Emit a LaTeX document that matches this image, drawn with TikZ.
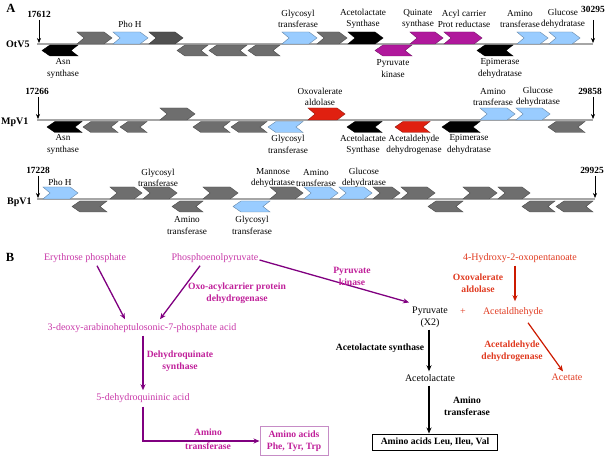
\documentclass[tikz,border=0pt]{standalone}
\usepackage{fontspec}
\setmainfont{Liberation Serif}
\usetikzlibrary{arrows.meta}
\definecolor{ggray}{HTML}{6E6E6E}
\definecolor{dgray}{HTML}{505050}
\definecolor{gblue}{HTML}{99CCFF}
\definecolor{gmag}{HTML}{B0189C}
\definecolor{gred}{HTML}{E02010}
\definecolor{pinktxt}{HTML}{C838A8}
\definecolor{magbold}{HTML}{C0209A}
\definecolor{purarr}{HTML}{800080}
\definecolor{redtxt}{HTML}{E03A20}
\definecolor{redarr}{HTML}{CC1A00}
\newcommand{\fgene}[4]{\filldraw[genest=#4] (#1,#3) -- ({#2-8},#3) -- (#2,{#3+6}) -- ({#2-8},{#3+12}) -- (#1,{#3+12}) -- ({#1+7},{#3+6}) -- cycle;}
\newcommand{\rgene}[4]{\filldraw[genest=#4] (#2,#3) -- ({#1+8},#3) -- (#1,{#3+5.5}) -- ({#1+8},{#3+11}) -- (#2,{#3+11}) -- ({#2-7},{#3+5.5}) -- cycle;}
\tikzset{
  genest/.style={fill=#1, draw=#1!65!black, line width=0.4pt},
  glab/.style={font=\fontsize{9.2}{11.3}\selectfont, align=center, inner sep=0pt},
  numlab/.style={font=\fontsize{9.4}{11}\selectfont\bfseries, inner sep=0pt},
  rowlab/.style={font=\fontsize{10}{12}\selectfont\bfseries, inner sep=0pt},
  panlab/.style={font=\fontsize{12.5}{14}\selectfont\bfseries, inner sep=0pt},
  baseln/.style={draw=gray!70, line width=1.5pt},
  numarr/.style={-{Stealth[length=5pt,width=4pt]}, line width=0.6pt},
  ptxt/.style={font=\fontsize{10}{12}\selectfont, align=center, inner sep=1pt},
  blab/.style={font=\fontsize{9.6}{12}\selectfont\bfseries, align=center, inner sep=0pt},
  parr/.style={-{Stealth[length=6pt,width=5pt]}, line width=1.3pt, draw=purarr},
  rarr/.style={-{Stealth[length=6pt,width=5pt]}, line width=1.2pt, draw=redarr},
  karr/.style={-{Stealth[length=6pt,width=5pt]}, line width=1.3pt, draw=black},
}
\begin{document}
\begin{tikzpicture}[x=1pt,y=-1pt]
\useasboundingbox (0,0) rectangle (608,457);
% ---------------- Panel A ----------------
\node[panlab] (A) at (11,8) {A};
% OtV5
\node[rowlab, anchor=west] (r1) at (6,44) {OtV5};
\node[numlab] (n1a) at (39,14) {17612};
\node[numlab, anchor=west] (n1b) at (581,9) {30295};
\coordinate (b1s) at (37,44);
\coordinate (b1e) at (593,44);
\draw[baseln] (b1s) -- (b1e);
\draw[numarr] (39,20) -- (39,43);
\draw[numarr] (593,20) -- (593,43);
\fgene{77}{112}{32}{ggray}
\fgene{113}{148}{32}{gblue}
\fgene{149}{183}{32}{dgray}
\fgene{282}{317}{32}{gblue}
\fgene{317}{347}{32}{ggray}
\fgene{348}{383}{32}{black}
\fgene{410}{443}{32}{gmag}
\fgene{444}{482}{32}{gmag}
\fgene{517}{548}{32}{gblue}
\fgene{549}{580}{32}{gblue}
\rgene{42}{78}{45}{black}
\rgene{177}{208}{45}{ggray}
\rgene{209}{247}{45}{ggray}
\rgene{248}{280}{45}{ggray}
\rgene{375}{412}{45}{gmag}
\rgene{477}{513}{45}{black}
\node[glab] (l11) at (130,24) {Pho H};
\node[glab] (l12) at (298,19) {Glycosyl\\transferase};
\node[glab] (l13) at (363,19) {Acetolactate\\Synthase};
\node[glab] (l14) at (418,19) {Quinate\\synthase};
\node[glab] (l15) at (464,19) {Acyl carrier\\Prot reductase};
\node[glab] (l16) at (520,19) {Amino\\transferase};
\node[glab] (l17) at (563,19) {Glucose\\dehydratase};
\node[glab] (l18) at (63,68.5) {Asn\\synthase};
\node[glab] (l19) at (393,68.5) {Pyruvate\\kinase};
\node[glab] (l1a) at (500,68.5) {Epimerase\\dehydratase};
% MpV1
\node[rowlab, anchor=west] (r2) at (1,122) {MpV1};
\node[numlab] (n2a) at (37,91) {17266};
\node[numlab] (n2b) at (590,91) {29858};
\coordinate (b2s) at (37,120);
\coordinate (b2e) at (593,120);
\draw[baseln] (b2s) -- (b2e);
\draw[numarr] (38,97) -- (38,119);
\draw[numarr] (593,97) -- (593,119);
\fgene{160}{195}{108}{ggray}
\fgene{308}{345}{108}{gred}
\fgene{480}{515}{108}{gblue}
\fgene{516}{550}{108}{gblue}
\rgene{47}{82}{121.5}{black}
\rgene{83}{118}{121.5}{ggray}
\rgene{120}{147}{121.5}{ggray}
\rgene{193}{230}{121.5}{ggray}
\rgene{231}{267}{121.5}{ggray}
\rgene{268}{303}{121.5}{gblue}
\rgene{347}{382}{121.5}{black}
\rgene{395}{430}{121.5}{gred}
\rgene{442}{480}{121.5}{black}
\rgene{548}{585}{121.5}{ggray}
\node[glab] (l21) at (320,97) {Oxovalerate\\aldolase};
\node[glab] (l22) at (493,97) {Amino\\transferase};
\node[glab] (l23) at (538,97) {Glucose\\dehydratase};
\node[glab] (l24) at (63,144.5) {Asn\\synthase};
\node[glab] (l25) at (288,144.5) {Glycosyl\\transferase};
\node[glab] (l26) at (363,144.5) {Acetolactate\\Synthase};
\node[glab] (l27) at (414,144.5) {Acetaldehyde\\dehydrogenase};
\node[glab] (l28) at (469,144.5) {Epimerase\\dehydratase};
% BpV1
\node[rowlab, anchor=west] (r3) at (7,202) {BpV1};
\node[numlab] (n3a) at (38,170) {17228};
\node[numlab] (n3b) at (592,170) {29925};
\coordinate (b3s) at (37,199);
\coordinate (b3e) at (595,199);
\draw[baseln] (b3s) -- (b3e);
\draw[numarr] (38,176) -- (38,198);
\draw[numarr] (595,176) -- (595,198);
\fgene{43}{78}{187}{gblue}
\fgene{110}{142}{187}{ggray}
\fgene{143}{177}{187}{ggray}
\fgene{203}{238}{187}{ggray}
\fgene{270}{303}{187}{ggray}
\fgene{304}{338}{187}{gblue}
\fgene{339}{372}{187}{gblue}
\fgene{373}{400}{187}{ggray}
\fgene{401}{435}{187}{ggray}
\fgene{463}{497}{187}{ggray}
\fgene{498}{530}{187}{ggray}
\rgene{72}{107}{201}{ggray}
\rgene{172}{203}{201}{ggray}
\rgene{233}{270}{201}{gblue}
\rgene{428}{463}{201}{ggray}
\rgene{522}{555}{201}{ggray}
\rgene{556}{593}{201}{ggray}
\node[glab] (l31) at (60,182) {Pho H};
\node[glab] (l32) at (158,178) {Glycosyl\\transferase};
\node[glab] (l33) at (273,178) {Mannose\\dehydratase};
\node[glab] (l34) at (316,178) {Amino\\transferase};
\node[glab] (l35) at (364,178) {Glucose\\dehydratase};
\node[glab] (l36) at (187,225.5) {Amino\\transferase};
\node[glab] (l37) at (252,225.5) {Glycosyl\\transferase};
% ---------------- Panel B ----------------
\node[panlab] (B) at (10,257) {B};
\node[ptxt, text=pinktxt] (ery) at (85,258) {Erythrose phosphate};
\node[ptxt, text=pinktxt] (pep) at (215,258) {Phosphoenolpyruvate};
\node[ptxt, text=pinktxt] (dahp) at (142,328) {3-deoxy-arabinoheptulosonic-7-phosphate acid};
\node[ptxt, text=pinktxt] (dhq) at (143,398) {5-dehydroquininic acid};
\node[blab, text=magbold, draw=purarr!45, line width=0.7pt, inner xsep=7pt, inner ysep=4pt] (aaa) at (294,441) {Amino acids\\Phe, Tyr, Trp};
\node[ptxt] (pyr) at (430,317) {Pyruvate\\(X2)};
\node[ptxt, text=redtxt] (plus) at (463,312) {+};
\node[ptxt, text=redtxt] (acald) at (513,312) {Acetaldhehyde};
\node[ptxt, text=redtxt] (hop) at (520,258) {4-Hydroxy-2-oxopentanoate};
\node[ptxt, text=redtxt] (acet) at (567,377) {Acetate};
\node[ptxt] (acl) at (430,378) {Acetolactate};
\node[blab, draw=black, line width=0.8pt, inner xsep=8pt, inner ysep=4pt] (bcaa) at (435,442) {Amino acids Leu, Ileu, Val};
% connectors
\draw[parr] ([xshift=12pt,yshift=-2pt]ery.south) -- ([xshift=-17pt,yshift=3pt]dahp.north);
\draw[parr] ([xshift=-15pt,yshift=-2pt]pep.south) -- ([xshift=18pt,yshift=3pt]dahp.north);
\draw[parr] ([yshift=-2pt]pep.east) -- ([xshift=-2pt,yshift=3pt]pyr.north west);
\draw[parr] ([xshift=1pt,yshift=-2pt]dahp.south) -- ([xshift=0pt,yshift=2pt]dhq.north);
\draw[parr] ([yshift=-3pt]dhq.south) |- (aaa.west);
\draw[rarr] ([xshift=-5pt,yshift=-2pt]hop.south) -- ([xshift=2pt,yshift=5pt]acald.north);
\draw[rarr] ([xshift=15pt,yshift=-5pt]acald.south) -- ([xshift=-4pt,yshift=1pt]acet.north);
\draw[karr] ([xshift=-1pt,yshift=-1pt]pyr.south) -- ([xshift=-1pt,yshift=2pt]acl.north);
\draw[karr] ([xshift=-1pt,yshift=-3pt]acl.south) -- ([xshift=-6pt,yshift=0pt]bcaa.north);
% edge labels
\node[blab, text=magbold] (e1) at (237,293) {Oxo-acylcarrier protein\\dehydrogenase};
\node[blab, text=magbold] (e2) at (352,276) {Pyruvate\\kinase};
\node[blab, text=magbold] (e3) at (180,361) {Dehydroquinate\\synthase};
\node[blab, text=magbold, font=\fontsize{9.6}{13.5}\selectfont\bfseries] (e4) at (208,439) {Amino\\transferase};
\node[blab, text=redtxt] (e5) at (478,283) {Oxovalerate\\aldolase};
\node[blab, text=redtxt] (e6) at (512,351) {Acetaldehyde\\dehydrogenase};
\node[blab] (e7) at (380,348) {Acetolactate synthase};
\node[blab] (e8) at (467,406) {Amino\\transferase};
\end{tikzpicture}
\end{document}
